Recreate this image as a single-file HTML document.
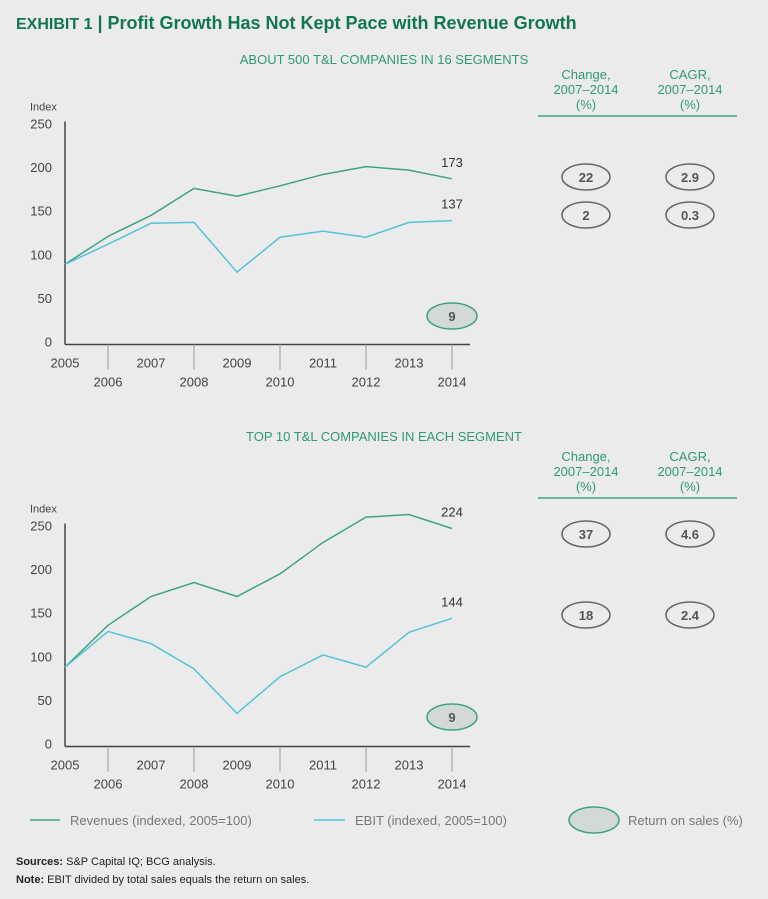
<!DOCTYPE html>
<html><head><meta charset="utf-8">
<style>
body{margin:0;background:#ebebeb;}
#root{position:relative;width:768px;height:899px;background:#ebebeb;font-family:"Liberation Sans",sans-serif;overflow:hidden;}
svg{position:absolute;left:0;top:0;}
</style></head>
<body>
<div id="root">
<svg id="chart" width="768" height="899">
  <text x="16" y="29" font-size="18" font-weight="bold" fill="#11774f"><tspan font-size="16">EXHIBIT 1</tspan> | Profit Growth Has Not Kept Pace with Revenue Growth</text>
</svg>
</div>
<script>
const years = [2005,2006,2007,2008,2009,2010,2011,2012,2013,2014];
const yTicks = [0,50,100,150,200,250];
const topRevenue = [92,124,148,179,170,182,195,204,200,190];
const topEbit = [92,115,139,140,83,123,130,123,140,142];
const botRevenue = [91,139,172,188,172,198,234,263,266,250];
const botEbit = [91,132,118,89,38,80,105,91,131,147];
const topEndLabels = ['173','137'];
const botEndLabels = ['224','144'];
const topTable = [['22','2.9'],['2','0.3']];
const botTable = [['37','4.6'],['18','2.4']];
const topRos = '9', botRos = '9';

const svg = document.getElementById('chart');
const NS = 'http://www.w3.org/2000/svg';
function mk(tag, attrs, text){
  const e = document.createElementNS(NS, tag);
  for (const k in attrs) e.setAttribute(k, attrs[k]);
  if (text !== undefined) e.textContent = text;
  svg.appendChild(e);
  return e;
}
const GREEN='#3ea383', BLUE='#52c4da', GRAY='#555';

function panel(o){
  const x0=65, x1=452, base=o.base, scale=0.872;
  const X = i => x0 + (x1-x0)*i/(years.length-1);
  const Y = v => base - v*scale;
  let t = mk('text',{x:384,y:o.title_y,'font-size':13,fill:'#2e9a74','text-anchor':'middle'},o.title);
  
  
  t = mk('text',{x:30,y:Y(250)-16,'font-size':11,fill:'#444'},'Index');
  
  
  yTicks.forEach(v=>{
    const e = mk('text',{x:52,y:Y(v)+2,'font-size':13,fill:'#444','text-anchor':'end'},String(v));
    
    
  });
  let a = mk('line',{x1:x0,y1:Y(250)-5,x2:x0,y2:base,stroke:'#444','stroke-width':1.5});
  
  
  a = mk('line',{x1:x0,y1:base,x2:x1+18,y2:base,stroke:'#444','stroke-width':1.5});
  
  
  years.forEach((yr,i)=>{
    const odd = i%2===0;
    if(!odd){
      const tk = mk('line',{x1:X(i),y1:base,x2:X(i),y2:base+25,stroke:'#999','stroke-width':1});
      
      
    }
    const e = mk('text',{x:X(i),y:odd?base+23:base+42,'font-size':13,fill:'#444','text-anchor':'middle'},String(yr));
    
    
  });
  [[o.rev,GREEN,'revenue-line'],[o.ebit,BLUE,'ebit-line']].forEach(([d,c,n],k)=>{
    const p = mk('polyline',{points:d.map((v,i)=>X(i)+','+Y(v)).join(' '),fill:'none',stroke:c,'stroke-width':1.5});
    
    
    const l = mk('text',{x:X(d.length-1),y:Y(d[d.length-1])-12,'font-size':13,fill:'#333','text-anchor':'middle'},o.ends[k]);
    
    
  });
  // ROS ellipse
  const el = mk('ellipse',{cx:X(9),cy:o.ros_y,rx:25,ry:13,fill:'#d3d9d7',stroke:GREEN,'stroke-width':1.5});
  
  
  t = mk('text',{x:X(9),y:o.ros_y+5,'font-size':13,'font-weight':'bold',fill:GRAY,'text-anchor':'middle'},o.ros);
  
  
  // table header
  [[586,'Change,'],[690,'CAGR,']].forEach(([cx,h])=>{
    [h,'2007–2014','(%)'].forEach((s,j)=>{
      const e = mk('text',{x:cx,y:o.head_y+j*15,'font-size':13,fill:'#2e9a74','text-anchor':'middle'},s);
      
      
    });
  });
  const r = mk('line',{x1:538,y1:o.head_y+37,x2:737,y2:o.head_y+37,stroke:GREEN,'stroke-width':1.5});
  
  
  o.table.forEach((row,ri)=>{
    row.forEach((v,ci)=>{
      const cx = ci?690:586, cy=o.row_y[ri];
      const e = mk('ellipse',{cx:cx,cy:cy,rx:24,ry:13,fill:'none',stroke:'#666','stroke-width':1.5});
      
      
      const tx = mk('text',{x:cx,y:cy+5,'font-size':13,'font-weight':'bold',fill:GRAY,'text-anchor':'middle'},v);
      
      
    });
  });
}
panel({title:'ABOUT 500 T&L COMPANIES IN 16 SEGMENTS',title_y:64,base:344.5,rev:topRevenue,ebit:topEbit,ends:topEndLabels,ros:topRos,ros_y:316,head_y:79,table:topTable,row_y:[177,215]});
panel({title:'TOP 10 T&L COMPANIES IN EACH SEGMENT',title_y:441,base:746.5,rev:botRevenue,ebit:botEbit,ends:botEndLabels,ros:botRos,ros_y:717,head_y:461,table:botTable,row_y:[534,615]});

// legend
let g = mk('line',{x1:30,y1:820,x2:60,y2:820,stroke:GREEN,'stroke-width':1.5});


g = mk('text',{x:70,y:825,'font-size':13,fill:'#777'},'Revenues (indexed, 2005=100)');


g = mk('line',{x1:314,y1:820,x2:345,y2:820,stroke:BLUE,'stroke-width':1.5});


g = mk('text',{x:355,y:825,'font-size':13,fill:'#777'},'EBIT (indexed, 2005=100)');


g = mk('ellipse',{cx:594,cy:820,rx:25,ry:13,fill:'#d3d9d7',stroke:GREEN,'stroke-width':1.5});


g = mk('text',{x:628,y:825,'font-size':13,fill:'#777'},'Return on sales (%)');


// notes
g = mk('text',{x:16,y:865,'font-size':11,fill:'#222'});
g.innerHTML = '<tspan font-weight="bold">Sources:</tspan> S&amp;P Capital IQ; BCG analysis.';


g = mk('text',{x:16,y:883,'font-size':11,fill:'#222'});
g.innerHTML = '<tspan font-weight="bold">Note:</tspan> EBIT divided by total sales equals the return on sales.';


</script>
</body></html>
